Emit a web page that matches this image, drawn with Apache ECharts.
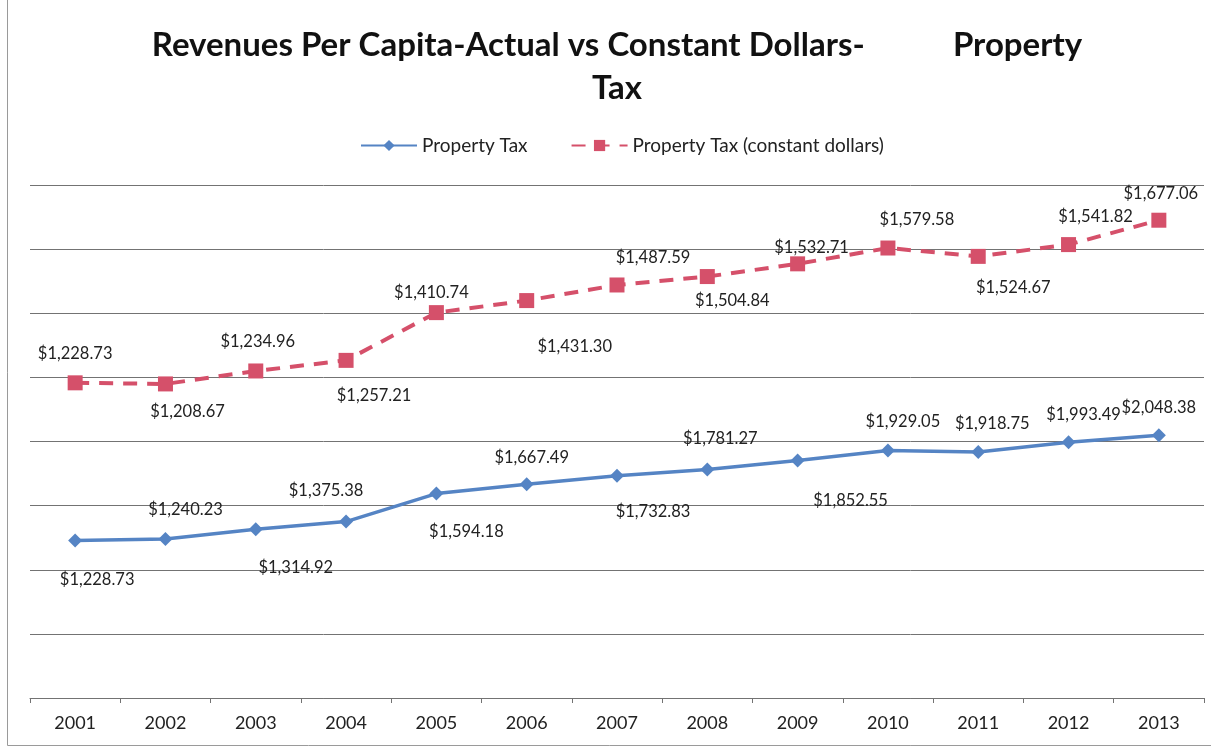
<!DOCTYPE html>
<html>
<head>
<meta charset="utf-8">
<script src="https://cdn.jsdelivr.net/npm/echarts@6/dist/echarts.min.js"></script>
<style>
  html, body { margin: 0; padding: 0; background: #fff; }
  #chart { width: 1211px; height: 748px; }
</style>
</head>
<body>
<div id="chart"></div>
<script>
// Fiscal years on the category axis
const years = ['2001','2002','2003','2004','2005','2006','2007','2008','2009','2010','2011','2012','2013'];

// Per-capita property tax, actual dollars
const propertyTax = [1228.73, 1240.23, 1314.92, 1375.38, 1594.18, 1667.49, 1732.83, 1781.27, 1852.55, 1929.05, 1918.75, 1993.49, 2048.38];

// Per-capita property tax, constant dollars (stacked on top of the actual line)
const propertyTaxConstant = [1228.73, 1208.67, 1234.96, 1257.21, 1410.74, 1431.30, 1487.59, 1504.84, 1532.71, 1579.58, 1524.67, 1541.82, 1677.06];

// Value-axis ticks
const yMin = 0, yMax = 4000, yStep = 500;

// Where each value label sits relative to its marker [dx, dy]
const blueLabelOffset = [[22,39],[20,-29],[40,38],[-20,-31],[30,38],[5,-26],[36,36],[13,-31],[53,40],[15,-29],[14,-28],[15,-28],[0,-28]];
const redLabelOffset  = [[0,-29],[22,28],[2,-29],[28,35],[-5,-20],[48,46],[36,-27],[25,24],[14,-16],[29,-28],[35,31],[27,-28],[2,-27]];

const FONT = 'Lato, "Open Sans", sans-serif';
const BLUE = '#5584C4';
const RED = '#D5506A';
const GRID = '#737373';

const money = v => '$' + v.toLocaleString('en-US', { minimumFractionDigits: 2, maximumFractionDigits: 2 });

function withLabels(values, offsets) {
  return values.map((v, i) => ({
    value: v,
    label: { position: 'inside', offset: offsets[i] }
  }));
}

const chart = echarts.init(document.getElementById('chart'), null, { renderer: 'canvas' });

chart.setOption({
  backgroundColor: '#ffffff',
  animation: false,
  graphic: [
    {
      type: 'rect',
      shape: { x: 7.5, y: -5, width: 1220, height: 750.5 },
      style: { fill: 'none', stroke: '#9a9a9a', lineWidth: 1 },
      silent: true
    },
    {
      type: 'text',
      x: 617, y: 45,
      style: {
        text: 'Revenues Per Capita-Actual vs Constant Dollars-           Property',
        textAlign: 'center', textVerticalAlign: 'middle',
        font: 'bold 33px ' + FONT, fill: '#111'
      }
    },
    {
      type: 'text',
      x: 617, y: 88,
      style: {
        text: 'Tax',
        textAlign: 'center', textVerticalAlign: 'middle',
        font: 'bold 33px ' + FONT, fill: '#111'
      }
    }
  ],
  legend: {
    top: 131,
    left: 355,
    itemWidth: 56,
    itemHeight: 14,
    itemGap: 43,
    textStyle: { fontFamily: FONT, fontSize: 19, color: '#222' },
    data: ['Property Tax', 'Property Tax (constant dollars)']
  },
  grid: { left: 30, right: 7, top: 185, bottom: 50, containLabel: false },
  xAxis: {
    type: 'category',
    data: years,
    boundaryGap: true,
    axisLine: { show: true, lineStyle: { color: GRID, width: 1 } },
    axisTick: { show: true, alignWithLabel: false, length: 5, lineStyle: { color: GRID } },
    axisLabel: { fontFamily: FONT, fontSize: 18, color: '#222', margin: 16 }
  },
  yAxis: {
    type: 'value',
    min: yMin, max: yMax, interval: yStep,
    axisLine: { show: false },
    axisTick: { show: false },
    axisLabel: { show: false },
    splitLine: { show: true, lineStyle: { color: GRID, width: 1 } }
  },
  series: [
    {
      name: 'Property Tax',
      type: 'line',
      stack: 'total',
      data: withLabels(propertyTax, blueLabelOffset),
      symbol: 'diamond',
      symbolSize: 14,
      itemStyle: { color: BLUE },
      lineStyle: { color: BLUE, width: 3.5 },
      label: {
        show: true,
        formatter: p => money(p.value),
        fontFamily: FONT, fontSize: 16.5, color: '#222'
      },
      z: 3
    },
    {
      name: 'Property Tax (constant dollars)',
      type: 'line',
      stack: 'total',
      data: withLabels(propertyTaxConstant, redLabelOffset),
      symbol: 'rect',
      symbolSize: 15,
      itemStyle: { color: RED },
      lineStyle: { color: RED, width: 4, type: [14, 10] },
      label: {
        show: true,
        formatter: p => money(p.value),
        fontFamily: FONT, fontSize: 16.5, color: '#222'
      },
      z: 3
    }
  ]
});
</script>
</body>
</html>
